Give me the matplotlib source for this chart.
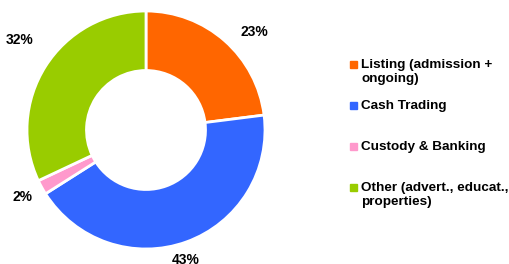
import numpy as np
import matplotlib.pyplot as plt
from matplotlib.patches import Rectangle

plt.rcParams['font.family'] = ['Liberation Sans', 'DejaVu Sans']

categories = ['Listing (admission +\nongoing)', 'Cash Trading',
              'Custody & Banking', 'Other (advert., educat.,\nproperties)']
shares = [23, 43, 2, 32]
colors = ['#FF6600', '#3366FF', '#FF99CC', '#99CC00']

# label placement tweaks (angle nudge in degrees, distance from centre)
label_nudge = [-6.5, -3, -0.5, -3]
label_dist = [1.23, 1.14, 1.18, 1.30]

W, H = 509, 264
fig = plt.figure(figsize=(W / 100, H / 100), dpi=100)
ax = fig.add_axes([27 / W, 15 / H, 238 / W, 238 / H])

wedges, _ = ax.pie(shares, colors=colors, startangle=90, counterclock=False,
                   radius=1, wedgeprops=dict(width=0.5, edgecolor='white', linewidth=2))
ax.set_xlim(-1, 1)
ax.set_ylim(-1, 1)
ax.set_aspect('equal')

# percentage labels outside the ring
for w, v, da, r in zip(wedges, shares, label_nudge, label_dist):
    ang = np.deg2rad((w.theta1 + w.theta2) / 2 + da)
    ax.text(r * np.cos(ang), r * np.sin(ang), f'{v}%', ha='center', va='center',
            fontsize=10, fontweight='bold', clip_on=False)

# legend, one equal slot per entry
top = 60
for i, (lab, c) in enumerate(zip(categories, colors)):
    y = top + i * 41
    fig.add_artist(Rectangle((350 / W, 1 - (y + 8) / H), 7 / W, 7 / H,
                             transform=fig.transFigure, color=c))
    fig.text(361 / W, 1 - (y - 1) / H, lab, ha='left', va='top', fontsize=9.7,
             fontweight='bold', linespacing=1.2)

fig.savefig('out.png', dpi=100)
